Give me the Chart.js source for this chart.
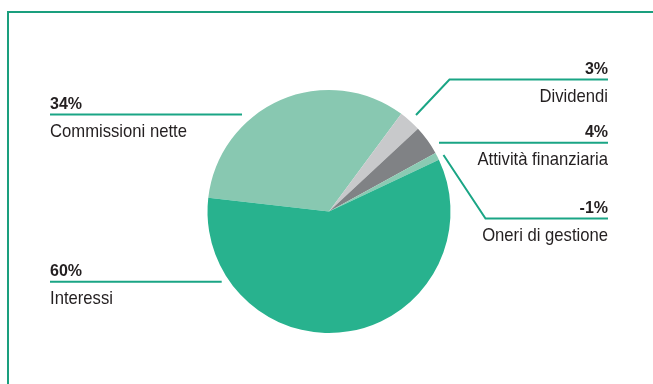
<!DOCTYPE html>
<html lang="it">
<head>
<meta charset="utf-8">
<title>Composizione dei ricavi</title>
<script src="https://cdn.jsdelivr.net/npm/chart.js@4/dist/chart.umd.min.js"></script>
<style>
  html, body { margin: 0; padding: 0; background: #fff; }
  .wrap { position: relative; width: 653px; height: 384px; overflow: hidden; }
  /* cornice verde solo su lato alto e sinistro */
  .frame {
    position: absolute; left: 7px; top: 11px; right: -10px; bottom: -10px;
    border-top: 2px solid #1a9f7e; border-left: 2px solid #1a9f7e;
  }
  canvas { position: absolute; left: 0; top: 0; }
</style>
</head>
<body>
<div class="wrap">
  <div class="frame"></div>
  <canvas id="chartRicavi" width="653" height="384"></canvas>
</div>
<script>
// voci in ordine orario a partire dalle commissioni
const categories = ['Commissioni nette', 'Dividendi', 'Attività finanziaria', 'Oneri di gestione', 'Interessi'];
const shares = [34, 3, 4, -1, 60];
const sliceColors = ['#88c8b1', '#c8c9cb', '#808285', '#8bcab3', '#28b28e'];

// posizione delle didascalie: lato, x del testo, y della riga, percorso del richiamo
const callouts = [
  { side: 'left',  x: 50,  lineY: 114.5, path: [[50, 114.5], [242, 114.5]] },
  { side: 'right', x: 608, lineY: 79.5,  path: [[416, 115], [449.5, 79.5], [608, 79.5]] },
  { side: 'right', x: 608, lineY: 142.7, path: [[439, 142.7], [608, 142.7]] },
  { side: 'right', x: 608, lineY: 218.5, path: [[443.5, 155], [485.5, 218.5], [608, 218.5]] },
  { side: 'left',  x: 50,  lineY: 281.7, path: [[50, 281.7], [221.7, 281.7]] }
];

const FONT = '"Liberation Sans", Arial, sans-serif';
const pct = v => v + '%';

// testo "condensato": stringe il carattere in orizzontale
function narrowText(ctx, text, x, y, align, sx) {
  ctx.save();
  ctx.translate(x, y);
  ctx.scale(sx, 1);
  ctx.textAlign = align;
  ctx.fillText(text, 0, 0);
  ctx.restore();
}

const calloutPlugin = {
  id: 'callouts',
  afterDraw(chart) {
    const ctx = chart.ctx;
    ctx.save();
    callouts.forEach((c, i) => {
      // linea di richiamo
      ctx.strokeStyle = '#1aa585';
      ctx.lineWidth = 2;
      ctx.beginPath();
      c.path.forEach(([x, y], k) => k ? ctx.lineTo(x, y) : ctx.moveTo(x, y));
      ctx.stroke();

      const align = c.side === 'left' ? 'left' : 'right';
      ctx.fillStyle = '#231f20';
      ctx.textBaseline = 'alphabetic';
      ctx.font = 'bold 16px ' + FONT;
      narrowText(ctx, pct(shares[i]), c.x, c.lineY - 6, align, 1);
      ctx.font = '18.5px ' + FONT;
      narrowText(ctx, categories[i], c.x, c.lineY + 22, align, 0.9);
    });
    ctx.restore();
  }
};

new Chart(document.getElementById('chartRicavi'), {
  type: 'pie',
  data: {
    labels: categories,
    datasets: [{
      data: shares.map(v => Math.abs(v)),
      backgroundColor: sliceColors,
      borderWidth: 0
    }]
  },
  options: {
    responsive: false,
    devicePixelRatio: 1,
    animation: false,
    rotation: 276.5,
    layout: { padding: { top: 90, bottom: 51, left: 207.5, right: 202.5 } },
    plugins: { legend: { display: false }, tooltip: { enabled: false } }
  },
  plugins: [calloutPlugin]
});
</script>
</body>
</html>
